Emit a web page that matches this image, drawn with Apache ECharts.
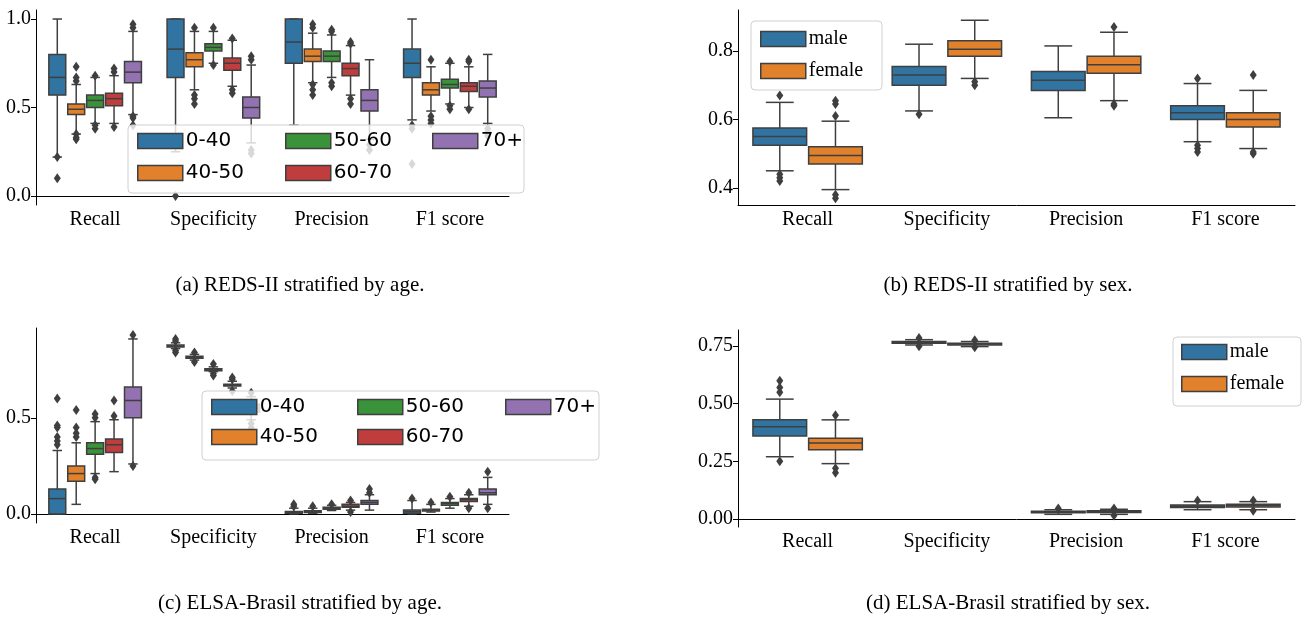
<!DOCTYPE html>
<html><head><meta charset="utf-8">
<script src="https://cdn.jsdelivr.net/npm/echarts@6/dist/echarts.min.js"></script>
<style>html,body{margin:0;padding:0;background:#fff}#c{width:1314px;height:619px}</style>
</head><body><div id="c"></div>
<script>
const categories = ['Recall', 'Specificity', 'Precision', 'F1 score'];
const ageGroups = ['0-40', '40-50', '50-60', '60-70', '70+'];
const sexGroups = ['male', 'female'];
const ageColors = ['#3274a1', '#e1812c', '#3a923a', '#c03d3e', '#9372b2'];
const sexColors = ['#3274a1', '#e1812c'];

// stats per category: [min whisker, q1, median, q3, max whisker]
// (a) REDS-II by age
const A_0_40 = [[0.22,0.57,0.67,0.80,1.0],[0.25,0.67,0.83,1.0,1.0],[0.40,0.75,0.87,1.0,1.0],[0.43,0.67,0.75,0.83,1.0]];
const A_0_40_OUT = [[0.10,0.22],[0.0],[],[0.18,0.38,0.40]];
const A_40_50 = [[0.35,0.46,0.49,0.52,0.63],[0.60,0.73,0.77,0.81,0.93],[0.64,0.76,0.79,0.83,0.92],[0.48,0.57,0.60,0.64,0.73]];
const A_40_50_OUT = [[0.32,0.33,0.35,0.65,0.67,0.73],[0.52,0.55,0.57,0.95],[0.57,0.60,0.63,0.95,0.97],[0.41,0.43,0.45,0.77]];
const A_50_60 = [[0.41,0.50,0.54,0.57,0.67],[0.75,0.82,0.84,0.86,0.93],[0.67,0.76,0.79,0.82,0.91],[0.52,0.61,0.63,0.66,0.75]];
const A_50_60_OUT = [[0.38,0.40,0.68],[0.74,0.95],[0.62,0.64,0.93,0.94],[0.49,0.51,0.76]];
const A_60_70 = [[0.41,0.51,0.55,0.58,0.68],[0.62,0.71,0.75,0.78,0.88],[0.57,0.68,0.72,0.75,0.85],[0.50,0.59,0.62,0.64,0.73]];
const A_60_70_OUT = [[0.39,0.70,0.72],[0.58,0.60,0.89],[0.52,0.55,0.86,0.87],[0.49,0.76,0.77]];
const A_70P = [[0.46,0.64,0.70,0.76,0.93],[0.30,0.44,0.50,0.56,0.74],[0.32,0.48,0.54,0.60,0.77],[0.41,0.56,0.61,0.65,0.80]];
const A_70P_OUT = [[0.40,0.44,0.45,0.95,0.97],[0.24,0.26,0.77,0.79],[0.26,0.29],[0.34,0.36,0.38]];

// (b) REDS-II by sex
const B_MALE = [[0.45,0.525,0.55,0.575,0.65],[0.625,0.70,0.73,0.755,0.82],[0.605,0.685,0.715,0.74,0.815],[0.535,0.60,0.62,0.64,0.705]];
const B_MALE_OUT = [[0.42,0.43,0.44,0.67],[0.615],[],[0.505,0.515,0.525,0.72]];
const B_FEMALE = [[0.395,0.47,0.495,0.52,0.595],[0.72,0.785,0.805,0.83,0.89],[0.655,0.735,0.76,0.785,0.855],[0.515,0.578,0.60,0.62,0.685]];
const B_FEMALE_OUT = [[0.37,0.38,0.61,0.645,0.655],[0.70,0.71],[0.64,0.645,0.87],[0.50,0.505,0.73]];

// (c) ELSA-Brasil by age
const C_0_40 = [[0.0,0.0,0.08,0.13,0.33],[0.86,0.868,0.872,0.878,0.89],[0.0,0.004,0.008,0.013,0.03],[0.0,0.004,0.012,0.02,0.07]];
const C_0_40_OUT = [[0.36,0.38,0.40,0.45,0.46,0.60],[0.84,0.85,0.90,0.91],[0.04,0.05],[0.08]];
const C_40_50 = [[0.05,0.17,0.21,0.25,0.37],[0.80,0.81,0.815,0.82,0.83],[0.004,0.008,0.012,0.017,0.03],[0.01,0.015,0.02,0.025,0.05]];
const C_40_50_OUT = [[0.40,0.42,0.45,0.54],[0.79,0.84],[0.04],[0.06]];
const C_50_60 = [[0.21,0.31,0.34,0.37,0.48],[0.74,0.745,0.75,0.755,0.765],[0.018,0.025,0.03,0.035,0.045],[0.03,0.045,0.055,0.06,0.08]];
const C_50_60_OUT = [[0.18,0.19,0.50,0.52],[0.72,0.73,0.78],[0.05],[0.09]];
const C_60_70 = [[0.22,0.32,0.36,0.39,0.49],[0.655,0.665,0.67,0.675,0.69],[0.02,0.035,0.04,0.05,0.06],[0.04,0.065,0.075,0.08,0.10]];
const C_60_70_OUT = [[0.51,0.59],[0.64,0.70,0.71],[0.01,0.07],[0.03,0.11]];
const C_70P = [[0.26,0.50,0.59,0.66,0.91],[0.49,0.53,0.55,0.57,0.61],[0.02,0.05,0.06,0.07,0.10],[0.05,0.10,0.11,0.13,0.19]];
const C_70P_OUT = [[0.25,0.93],[0.43,0.45,0.47,0.63],[0.11,0.13],[0.03,0.22]];

// (d) ELSA-Brasil by sex
const D_MALE = [[0.27,0.36,0.40,0.43,0.52],[0.755,0.762,0.766,0.77,0.778],[0.02,0.027,0.03,0.033,0.04],[0.04,0.05,0.055,0.06,0.075]];
const D_MALE_OUT = [[0.25,0.55,0.57,0.60],[0.75,0.785],[0.045],[0.08]];
const D_FEMALE = [[0.24,0.30,0.33,0.35,0.43],[0.748,0.755,0.759,0.763,0.77],[0.02,0.028,0.032,0.035,0.042],[0.04,0.052,0.058,0.064,0.075]];
const D_FEMALE_OUT = [[0.20,0.22,0.45],[0.745,0.775],[0.015,0.045],[0.035,0.08]];

const panels = [
  {grid:{left:36,top:10,width:473,height:195}, y:[-0.051,1.051], ticks:[0,0.5,1.0], dec:1,
   groups:ageGroups, colors:ageColors, stats:[A_0_40,A_40_50,A_50_60,A_60_70,A_70P], outs:[A_0_40_OUT,A_40_50_OUT,A_50_60_OUT,A_60_70_OUT,A_70P_OUT]},
  {grid:{left:738,top:10,width:557,height:195}, y:[0.35,0.92], ticks:[0.4,0.6,0.8], dec:1,
   groups:sexGroups, colors:sexColors, stats:[B_MALE,B_FEMALE], outs:[B_MALE_OUT,B_FEMALE_OUT]},
  {grid:{left:36,top:328,width:473,height:195}, y:[-0.047,0.967], ticks:[0,0.5], dec:1,
   groups:ageGroups, colors:ageColors, stats:[C_0_40,C_40_50,C_50_60,C_60_70,C_70P], outs:[C_0_40_OUT,C_40_50_OUT,C_50_60_OUT,C_60_70_OUT,C_70P_OUT]},
  {grid:{left:738,top:330,width:557,height:197}, y:[-0.035,0.82], ticks:[0,0.25,0.5,0.75], dec:2,
   groups:sexGroups, colors:sexColors, stats:[D_MALE,D_FEMALE], outs:[D_MALE_OUT,D_FEMALE_OUT]}
];

const EDGE = '#3f3f3f';
const SERIF = '"Liberation Serif","DejaVu Serif",serif';
const grid = [], xAxis = [], yAxis = [], series = [];
panels.forEach((p, pi) => {
  grid.push(p.grid);
  xAxis.push({type:'category', gridIndex:pi, data:categories, boundaryGap:true,
    axisLine:{lineStyle:{color:'#000',width:1}}, axisTick:{alignWithLabel:true,length:5,lineStyle:{color:'#000'}},
    axisLabel:{color:'#000',fontFamily:SERIF,fontSize:20,margin:5}});
  yAxis.push({type:'value', gridIndex:pi, min:p.y[0], max:p.y[1], splitLine:{show:false},
    axisLine:{show:true,lineStyle:{color:'#000',width:1}},
    axisTick:{show:true,length:5,customValues:p.ticks,lineStyle:{color:'#000'}},
    axisLabel:{color:'#000',fontFamily:SERIF,fontSize:20,margin:5,customValues:p.ticks,formatter:v=>v.toFixed(p.dec)}});
  const n = p.groups.length;
  p.groups.forEach((g, gi) => {
    const st = p.stats[gi], out = p.outs[gi];
    series.push({
      type:'custom', name:g, xAxisIndex:pi, yAxisIndex:pi,
      itemStyle:{color:p.colors[gi], borderColor:EDGE},
      data: st.map((s, ci) => [ci].concat(s)),
      encode:{x:0, y:[1,2,3,4,5]},
      renderItem:(params, api) => {
        const ci = api.value(0);
        const band = api.size([1,0])[0];
        const w = band * 0.8 / n;
        const cx = api.coord([ci, 0])[0] + (gi - (n - 1) / 2) * w;
        const y = k => api.coord([ci, api.value(k)])[1];
        const ymin=y(1), q1=y(2), med=y(3), q3=y(4), ymax=y(5);
        const ls = {stroke:EDGE, lineWidth:1.5};
        const hw = w/2 - 1, cap = w/4;
        const ch = [
          {type:'line', shape:{x1:cx,y1:q1,x2:cx,y2:ymin}, style:ls},
          {type:'line', shape:{x1:cx,y1:q3,x2:cx,y2:ymax}, style:ls},
          {type:'line', shape:{x1:cx-cap,y1:ymin,x2:cx+cap,y2:ymin}, style:ls},
          {type:'line', shape:{x1:cx-cap,y1:ymax,x2:cx+cap,y2:ymax}, style:ls},
          {type:'rect', shape:{x:cx-hw,y:q3,width:2*hw,height:Math.max(q1-q3,0.5)}, style:{fill:p.colors[gi],stroke:EDGE,lineWidth:1.5}},
          {type:'line', shape:{x1:cx-hw,y1:med,x2:cx+hw,y2:med}, style:ls}
        ];
        (out[ci] || []).forEach(v => {
          const oy = api.coord([ci, v])[1];
          ch.push({type:'polygon', shape:{points:[[cx,oy-5],[cx+3.5,oy],[cx,oy+5],[cx-3.5,oy]]}, style:{fill:EDGE}});
        });
        return {type:'group', children:ch};
      }
    });
  });
});

function legendCol(names, colors, left, top, gap, font, size) {
  return {data:names.map((nm,i)=>({name:nm, itemStyle:{color:colors[i], borderColor:EDGE, borderWidth:1.5}})),
    orient:'vertical', left:left, top:top, itemWidth:45, itemHeight:15, itemGap:gap, icon:'rect',
    textStyle:{fontFamily:font, fontSize:size, color:'#000', padding:[0,0,0,-2]}, selectedMode:false, z:100, padding:0};
}
const SANS = '"DejaVu Sans",sans-serif';
const legend = [
  legendCol(['0-40','40-50'], ageColors.slice(0,2), 137, 131, 12, SANS, 20),
  legendCol(['50-60','60-70'], ageColors.slice(2,4), 285, 131, 12, SANS, 20),
  legendCol(['70+'], ageColors.slice(4), 432, 131, 12, SANS, 20),
  legendCol(['0-40','40-50'], ageColors.slice(0,2), 211, 397, 10, SANS, 20),
  legendCol(['50-60','60-70'], ageColors.slice(2,4), 357, 397, 10, SANS, 20),
  legendCol(['70+'], ageColors.slice(4), 505, 397, 10, SANS, 20),
  legendCol(sexGroups, sexColors, 760, 29, 12, SERIF, 20),
  legendCol(sexGroups, sexColors, 1181, 342, 12, SERIF, 20)
];
const box = (x,y,w,h) => ({type:'rect', z:50, shape:{x,y,width:w,height:h,r:4},
  style:{fill:'rgba(255,255,255,0.8)', stroke:'#d0d0d0', lineWidth:1}});
const cap = (text, x, y) => ({type:'text', x, y, style:{text, fill:'#000', font:'21px '+SERIF, textAlign:'center', textVerticalAlign:'middle'}});
const graphic = [
  box(128,125,396,68), box(202,391,397,69), box(751,21,131,69), box(1173,337,128,69),
  cap('(a) REDS-II stratified by age.', 300, 285), cap('(b) REDS-II stratified by sex.', 1008, 285),
  cap('(c) ELSA-Brasil stratified by age.', 300, 603), cap('(d) ELSA-Brasil stratified by sex.', 1008, 603)
];
const chart = echarts.init(document.getElementById('c'));
chart.setOption({animation:false, backgroundColor:'#fff', grid, xAxis, yAxis, series, legend, graphic});
</script></body></html>
